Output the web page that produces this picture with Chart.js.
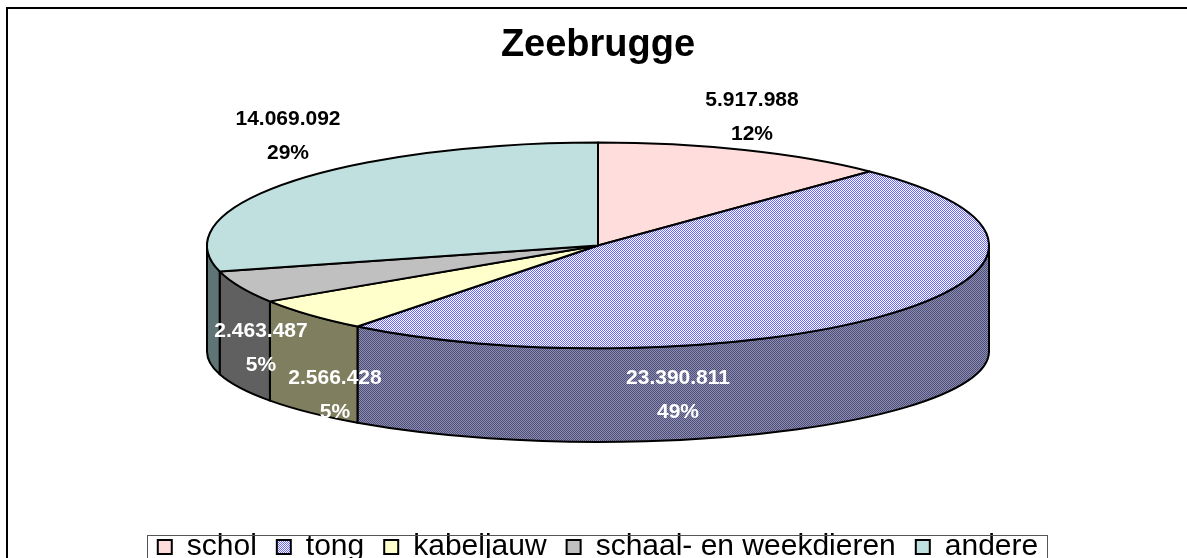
<!DOCTYPE html>
<html>
<head>
<meta charset="utf-8">
<script src="https://cdn.jsdelivr.net/npm/chart.js@4.4.1/dist/chart.umd.min.js"></script>
<style>
  html, body { margin: 0; padding: 0; background: #fff; overflow: hidden; }
  #wrap { width: 1187px; height: 558px; overflow: hidden; position: relative; }
  #wrap canvas { position: absolute; left: 0; top: 0; }
</style>
</head>
<body>
<div id="wrap"><canvas id="zeebrugge" width="1187" height="572"></canvas></div>
<script>
(function() {
  'use strict';

  // data (aanvoer Zeebrugge, kg)
  const soorten = ['schol', 'tong', 'kabeljauw', 'schaal- en weekdieren', 'andere'];
  const aanvoer = [5917988, 23390811, 2566428, 2463487, 14069092];
  const procent = ['12%', '49%', '5%', '5%', '29%'];

  // kleuren: bovenvlak en zijkant
  function checker(a, b) {
    const c = document.createElement('canvas');
    c.width = 2; c.height = 2;
    const g = c.getContext('2d');
    g.fillStyle = b; g.fillRect(0, 0, 2, 2);
    g.fillStyle = a; g.fillRect(0, 0, 1, 1); g.fillRect(1, 1, 1, 1);
    return g.createPattern(c, 'repeat');
  }
  const topColors  = ['#FFDDDD', checker('#6666FF', '#FFFFFF'), '#FFFFCC', '#C0C0C0', '#C0E0E0'];
  const sideColors = ['#806E6E', checker('#4C4C7A', '#8E8EAE'), '#7F7F60', '#606060', '#5F7575'];
  const labelColors = ['#000', '#fff', '#fff', '#fff', '#000'];

  // 3D look
  const PIE = { rx: 391, tilt: 0.263, depth: 106, bottomTilt: 0.88 };
  // label block centre relative to pie centre
  const LABEL_OFFSET = [[154, -128], [80, 150], [-263, 150], [-337, 103], [-310, -109]];

  function fmt(n) {
    return String(n).replace(/\B(?=(\d{3})+(?!\d))/g, '.');
  }

  function geom(chart) {
    const area = chart.chartArea;
    const meta = chart.getDatasetMeta(0);
    const rx = PIE.rx, ry = rx * PIE.tilt;
    return { meta, cx: meta.data[0].x, cy: area.top + ry, rx, ry, d: PIE.depth, ryb: ry * PIE.bottomTilt };
  }

  const pie3d = {
    id: 'pie3d',
    beforeDatasetsDraw(chart) {
      const ctx = chart.ctx;
      const g = geom(chart);
      ctx.save();
      ctx.lineWidth = 2;
      ctx.strokeStyle = '#000';
      ctx.lineJoin = 'round';

      // zijkant: alleen het voorste deel (0..PI)
      g.meta.data.forEach(function(arc, i) {
        const a1 = Math.max(arc.startAngle, 0);
        const a2 = Math.min(arc.endAngle, Math.PI);
        if (a2 <= a1) return;
        ctx.beginPath();
        ctx.ellipse(g.cx, g.cy, g.rx, g.ry, 0, a1, a2);
        ctx.ellipse(g.cx, g.cy + g.d, g.rx, g.ryb, 0, a2, a1, true);
        ctx.closePath();
        ctx.fillStyle = sideColors[i];
        ctx.fill();
        ctx.stroke();
      });

      // bovenvlak
      g.meta.data.forEach(function(arc, i) {
        ctx.beginPath();
        ctx.moveTo(g.cx, g.cy);
        ctx.ellipse(g.cx, g.cy, g.rx, g.ry, 0, arc.startAngle, arc.endAngle);
        ctx.closePath();
        ctx.fillStyle = topColors[i];
        ctx.fill();
        ctx.stroke();
      });
      ctx.restore();
      return false; // eigen tekening i.p.v. standaard bogen
    },
    afterDraw(chart) {
      const ctx = chart.ctx;
      const g = geom(chart);
      ctx.save();

      // data labels
      ctx.font = 'bold 21px "Liberation Sans", Arial, sans-serif';
      ctx.textAlign = 'center';
      ctx.textBaseline = 'middle';
      aanvoer.forEach(function(v, i) {
        const x = g.cx + LABEL_OFFSET[i][0];
        const y = g.cy + LABEL_OFFSET[i][1];
        ctx.fillStyle = labelColors[i];
        ctx.fillText(fmt(v), x, y - 17);
        ctx.fillText(procent[i], x, y + 17);
      });

      // buitenkader
      ctx.strokeStyle = '#000';
      ctx.lineWidth = 2;
      ctx.strokeRect(7, 8, 1400, 800);

      // kader rond legende
      const hb = chart.legend.legendHitBoxes;
      if (hb && hb.length) {
        const first = hb[0], last = hb[hb.length - 1];
        const top = Math.round(first.top + first.height / 2 - 12);
        ctx.strokeStyle = '#555';
        ctx.lineWidth = 1;
        ctx.strokeRect(Math.round(first.left - 11) + 0.5, top + 0.5, Math.round(last.left + last.width - first.left + 20), 100);
      }
      ctx.restore();
    }
  };

  new Chart(document.getElementById('zeebrugge'), {
    type: 'pie',
    data: {
      labels: soorten,
      datasets: [{
        data: aanvoer,
        backgroundColor: topColors,
        borderColor: '#000',
        borderWidth: 2
      }]
    },
    options: {
      responsive: false,
      animation: false,
      layout: { padding: { left: 9, right: 0, top: 0, bottom: 0 } },
      plugins: {
        title: {
          display: true,
          text: 'Zeebrugge',
          color: '#000',
          font: { family: '"Liberation Sans", Arial, sans-serif', size: 38, weight: 'bold' },
          padding: { top: 23, bottom: 74 }
        },
        legend: {
          position: 'bottom',
          labels: {
            color: '#000',
            font: { family: '"Liberation Sans", Arial, sans-serif', size: 30 },
            boxWidth: 14,
            boxHeight: 14,
            padding: 20
          }
        },
        tooltip: { enabled: false }
      }
    },
    plugins: [pie3d]
  });
})();
</script>
</body>
</html>
